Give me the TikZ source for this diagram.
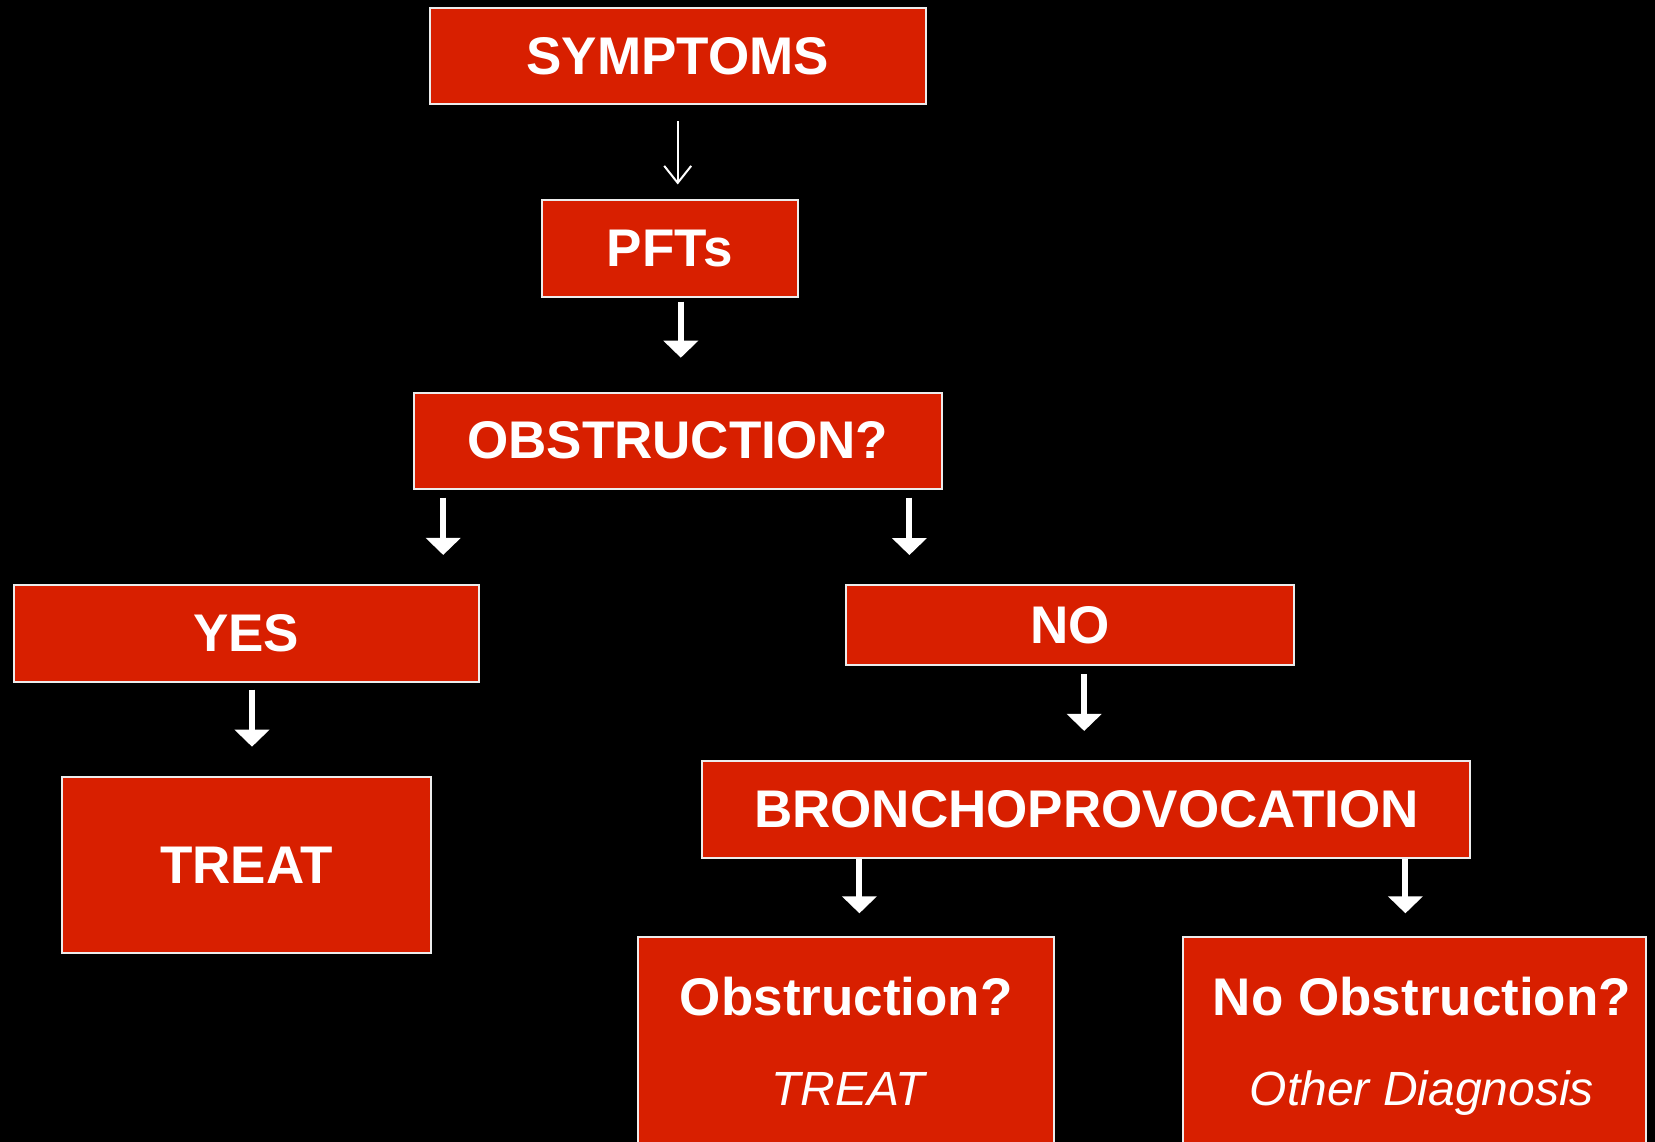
\documentclass[tikz,border=0pt]{standalone}
\usepackage{fontspec}
\setmainfont{Liberation Sans}
\usetikzlibrary{arrows.meta}
\definecolor{boxred}{RGB}{216,31,0}
\definecolor{rim}{RGB}{236,236,236}

\begin{document}
\begin{tikzpicture}[x=1pt,y=-1pt,
		box/.style={draw=rim,line width=2pt,fill=boxred,text=white,inner sep=0pt,font=\bfseries\fontsize{53}{60}\selectfont},
		bold/.style={text=white,inner sep=0pt,anchor=base,font=\bfseries\fontsize{53}{60}\selectfont},
		ital/.style={text=white,inner sep=0pt,anchor=base,font=\itshape\fontsize{48}{54}\selectfont},
		fat/.style={white,line width=6pt,-{Triangle[width=34pt,length=17pt]}},
		slim/.style={white,line width=2pt,-{Straight Barb[width=27pt,length=17pt,line width=2pt]}}]
		\useasboundingbox (0,0) rectangle (1655,1142);
		\fill [black] (0,0) rectangle (1655,1142);
		\clip (0,0) rectangle (1655,1142);
		% boxes
		\node [box,minimum width=496pt,minimum height=96pt] (sym) at (677.7,56.5) {SYMPTOMS};
		\node [box,minimum width=256.5pt,minimum height=96pt] (pft) at (669.8,248.5) {PFTs};
		\node [box,minimum width=528pt,minimum height=96pt] (obs) at (677.7,440.7) {OBSTRUCTION?};
		\node [box,minimum width=465pt,minimum height=96.7pt] (yes) at (246.3,633.3) {YES};
		\node [box,minimum width=448.4pt,minimum height=80.3pt] (no) at (1070.2,625.2) {NO};
		\node [box,minimum width=368.7pt,minimum height=176.6pt] (treat) at (246.4,865) {TREAT};
		\node [box,minimum width=768pt,minimum height=96.7pt] (bro) at (1086.4,809.3) {BRONCHOPROVOCATION};
		\node [box,minimum width=415.8pt,minimum height=263pt] (obsq) at (846.3,1068.5) {};
		\node [box,minimum width=463.6pt,minimum height=263pt] (noobs) at (1414.6,1068.5) {};
		\node [bold] (obsqa) at (846.3,1015) {Obstruction?};
		\node [ital] (obsqb) at (848,1105) {TREAT};
		\node [bold] (noobsa) at (1422,1015) {No Obstruction?};
		\node [ital] (noobsb) at (1422,1105) {Other Diagnosis};
		% arrows
		\draw [slim,shorten <=16pt,shorten >=15pt] (sym.south) -- (sym.south |- pft.north);
		\draw [fat,shorten <=4pt,shorten >=34pt] ([xshift=11pt]pft.south) -- ([xshift=11pt]pft.south |- obs.north);
		\draw [fat,shorten <=8pt,shorten >=29pt] ([xshift=30.5pt]obs.south west) -- ([xshift=30.5pt]obs.south west |- yes.north);
		\draw [fat,shorten <=8pt,shorten >=29pt] ([xshift=-33.3pt]obs.south east) -- ([xshift=-33.3pt]obs.south east |- no.north);
		\draw [fat,shorten <=7pt,shorten >=29pt] ([xshift=5.7pt]yes.south) -- ([xshift=5.7pt]yes.south |- treat.north);
		\draw [fat,shorten <=8pt,shorten >=29pt] ([xshift=14pt]no.south) -- ([xshift=14pt]no.south |- bro.north);
		\draw [fat,shorten >=22.7pt] ([xshift=158pt]bro.south west) -- ([xshift=158pt]bro.south west |- obsq.north);
		\draw [fat,shorten >=22.7pt] ([xshift=-66pt]bro.south east) -- ([xshift=-66pt]bro.south east |- noobs.north);
	\end{tikzpicture}
\end{document}
